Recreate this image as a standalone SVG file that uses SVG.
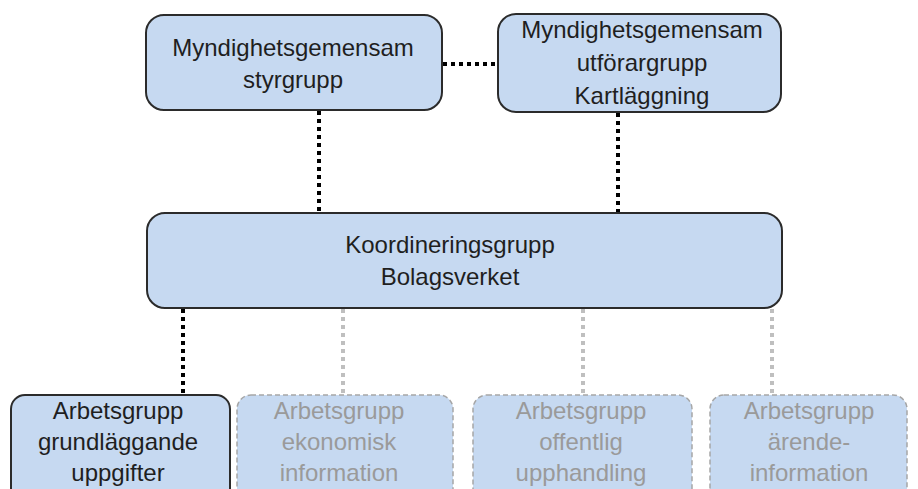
<svg xmlns="http://www.w3.org/2000/svg" width="918" height="489" viewBox="0 0 918 489">
<style>
.box{fill:#C6D9F1;stroke:#2b2b2b;stroke-width:2}
.ghost{fill:#C6D9F1;stroke:#A6A6A6;stroke-width:1.5;stroke-dasharray:5 3}
.t{font-family:"Liberation Sans",Arial,sans-serif;font-size:24px;fill:#1f1f1f;text-anchor:middle}
.tg{font-family:"Liberation Sans",Arial,sans-serif;font-size:24px;fill:#9a9a9a;text-anchor:middle}
.c{fill:none;stroke:#000;stroke-width:4;stroke-dasharray:4 4}
.cg{fill:none;stroke:#BFBFBF;stroke-width:4;stroke-dasharray:4 4}
</style>
<rect width="918" height="489" fill="#fff"/>
<g id="connectors">
<line class="c" x1="443" y1="64" x2="497" y2="64"/>
<line class="c" x1="319" y1="111" x2="319" y2="213"/>
<line class="c" x1="618" y1="113" x2="618" y2="213"/>
<line class="c" x1="183" y1="309" x2="183" y2="395"/>
<line class="cg" x1="343" y1="309" x2="343" y2="395"/>
<line class="cg" x1="583" y1="309" x2="583" y2="395"/>
<line class="cg" x1="772" y1="309" x2="772" y2="395"/>
</g>
<g id="styrgrupp">
<rect class="box" x="146" y="15" width="296" height="95" rx="18"/>
<text class="t" x="293" y="56">Myndighetsgemensam</text>
<text class="t" x="293" y="88">styrgrupp</text>
</g>
<g id="utforargrupp">
<rect class="box" x="498" y="14" width="283" height="98" rx="18"/>
<text class="t" x="642" y="38">Myndighetsgemensam</text>
<text class="t" x="642" y="71">utförargrupp</text>
<text class="t" x="642" y="104">Kartläggning</text>
</g>
<g id="koordinering">
<rect class="box" x="147" y="213" width="635" height="95" rx="18"/>
<text class="t" x="450" y="253">Koordineringsgrupp</text>
<text class="t" x="450" y="285">Bolagsverket</text>
</g>
<g id="grundlaggande">
<rect class="box" x="11" y="395" width="219" height="110" rx="14"/>
<text class="t" x="118" y="419">Arbetsgrupp</text>
<text class="t" x="118" y="450">grundläggande</text>
<text class="t" x="118" y="481">uppgifter</text>
</g>
<g id="ekonomisk">
<rect class="ghost" x="237" y="395" width="216" height="110" rx="14"/>
<text class="tg" x="339" y="419">Arbetsgrupp</text>
<text class="tg" x="339" y="450">ekonomisk</text>
<text class="tg" x="339" y="481">information</text>
</g>
<g id="upphandling">
<rect class="ghost" x="473" y="395" width="219" height="110" rx="14"/>
<text class="tg" x="581" y="419">Arbetsgrupp</text>
<text class="tg" x="581" y="450">offentlig</text>
<text class="tg" x="581" y="481">upphandling</text>
</g>
<g id="arendeinformation">
<rect class="ghost" x="710" y="395" width="197" height="110" rx="14"/>
<text class="tg" x="809" y="419">Arbetsgrupp</text>
<text class="tg" x="809" y="450">ärende-</text>
<text class="tg" x="809" y="481">information</text>
</g>
</svg>
